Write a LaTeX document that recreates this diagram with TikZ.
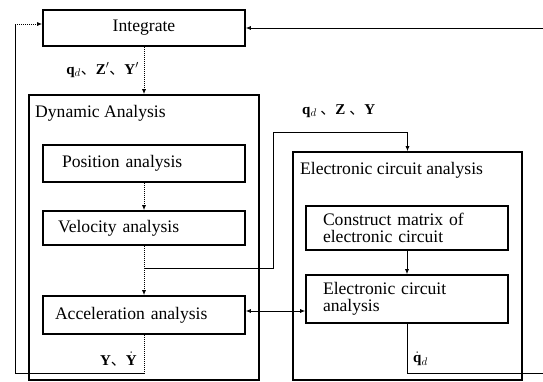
\documentclass[tikz,border=0pt]{standalone}
\usepackage{fontspec}
\setmainfont{Liberation Serif}
\newfontfamily\cjk{Noto Sans CJK SC}
\usetikzlibrary{arrows.meta}
\newcommand{\dun}{{\cjk 、}}

\begin{document}
\begin{tikzpicture}[x=1pt,y=-1pt,
  every node/.style={font=\fontsize{17.6}{17}\selectfont},
  box/.style={draw, line width=1.6pt, rectangle, inner ysep=0pt},
  frame/.style={draw, line width=1.6pt, rectangle, inner sep=0pt},
  txtbox/.style={box, align=left, text width=#1},
  link/.style={line width=0.8pt},
  dotlink/.style={line width=1pt, dash pattern=on 1pt off 1pt},
  tip/.style={-{Latex[length=5pt,width=4pt]}},
  vars/.style={font=\fontsize{15}{16}\selectfont, inner sep=0pt}]
\useasboundingbox (0,0) rectangle (543,381);
\clip (0,0) rectangle (543,381);

% top integrator
\node[box, minimum width=202pt, minimum height=36pt] (int) at (144,28) {Integrate};

% dynamic analysis block
\node[frame, minimum width=230pt, minimum height=285pt] (dyn) at (144,237.5) {};
\node[anchor=west, inner sep=0pt] (dynlbl) at (35,113) {Dynamic Analysis};
\node[txtbox=164pt, inner xsep=19pt, minimum height=37pt] (pos) at (144,163.5) {Position analysis};
\node[txtbox=172pt, inner xsep=15pt, minimum height=34pt] (vel) at (144,228) {Velocity analysis};
\node[txtbox=178pt, inner xsep=12pt, minimum height=38pt] (acc) at (144,315) {Acceleration analysis};

% electronic circuit block
\node[frame, minimum width=229pt, minimum height=228pt] (ele) at (407.5,266) {};
\node[anchor=west, inner sep=0pt] (elelbl) at (300,170) {Electronic circuit analysis};
\node[txtbox=168pt, inner xsep=17pt, minimum height=44pt] (con) at (407,228) {Construct matrix of\\electronic circuit};
\node[txtbox=168pt, inner xsep=17pt, minimum height=48pt] (inn) at (407,299) {Electronic circuit\\analysis};

% helper points for the loops
\coordinate (br) at (144,268);
\coordinate (c1) at (273,132);
\coordinate (c2) at (0,311);
\coordinate (lb) at (15,373);
\coordinate (lt) at (15,24);
\coordinate (rb) at (548,373);

% flow inside the dynamic block
\draw[dotlink,tip] (int.south) -- (dyn.north);
\draw[dotlink,tip] (pos.south) -- (vel.north);
\draw[dotlink,tip] (vel.south) -- (acc.north);
\draw[link,tip] (br) -| (c1) -| (ele.north);

% circuit side
\draw[link,tip] (con.south) -- (inn.north);
\draw[link,{Latex[length=5pt,width=4pt]}-{Latex[length=5pt,width=4pt]}] (acc.east |- c2) -- (inn.west |- c2);

% feedback loops
\draw[dotlink] (acc.south) -- (acc.south |- lb);
\draw[link] (acc.south |- lb) -- (lb) -- (lt);
\draw[dotlink,tip] (lt) -- (int.west |- lt);
\draw[link,tip] (inn.south) |- (rb) |- (int.east);

% variable labels
\node[vars, anchor=east] (v1) at (139,70) {$\mathbf{q}_d$\dun$\mathbf{Z}'$\dun$\mathbf{Y}'$};
\node[vars, anchor=west] (v2) at (302,111) {$\mathbf{q}_d$ \dun $\mathbf{Z}$ \dun $\mathbf{Y}$};
\node[vars, anchor=east] (v3) at (137,359) {$\mathbf{Y}$\dun$\dot{\mathbf{Y}}$};
\node[vars, anchor=west] (v4) at (413,359) {$\dot{\mathbf{q}}_d$};
\end{tikzpicture}
\end{document}
